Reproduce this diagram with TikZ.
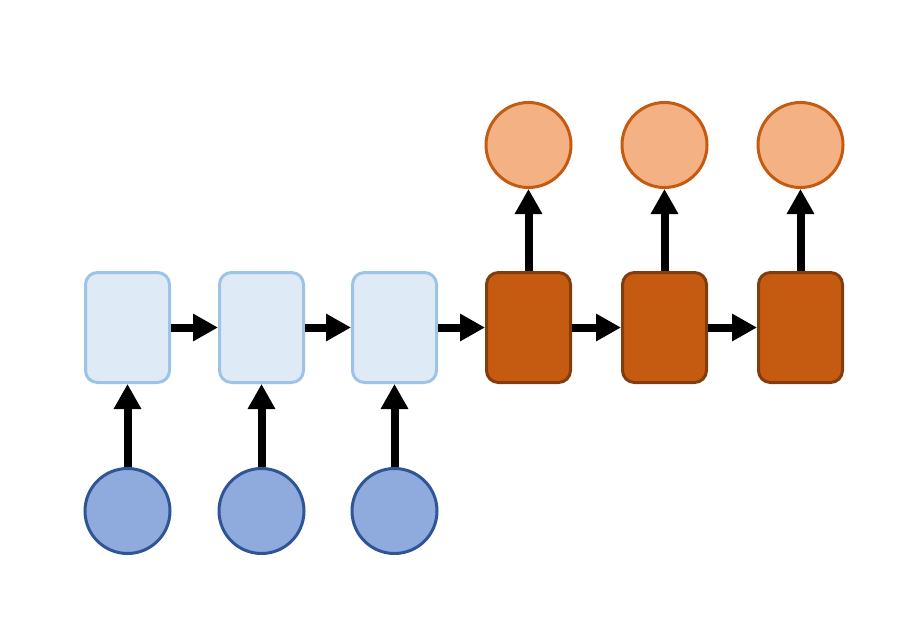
\documentclass[tikz,border=0pt]{standalone}
\usetikzlibrary{arrows.meta}
\definecolor{lbfill}{HTML}{DEEBF7}
\definecolor{lbdraw}{HTML}{9DC3E6}
\definecolor{cbfill}{HTML}{8FAADC}
\definecolor{cbdraw}{HTML}{2F5597}
\definecolor{obfill}{HTML}{C55A11}
\definecolor{obdraw}{HTML}{843C0C}
\definecolor{ocfill}{HTML}{F4B183}
\definecolor{ocdraw}{HTML}{C55A11}
\tikzset{
  cell/.style={rectangle, rounded corners=12pt, minimum width=84pt, minimum height=110pt, line width=3pt, inner sep=0pt},
  inbox/.style={cell, fill=lbfill, draw=lbdraw},
  outbox/.style={cell, fill=obfill, draw=obdraw},
  ball/.style={circle, minimum size=85pt, line width=3pt, inner sep=0pt},
  inball/.style={ball, fill=cbfill, draw=cbdraw},
  outball/.style={ball, fill=ocfill, draw=ocdraw},
  flow/.style={line width=8pt, -{Triangle[length=25pt,width=26pt]}}
}
\begin{document}
\begin{tikzpicture}[x=1pt,y=-1pt]
\useasboundingbox (0,0) rectangle (917,639);
\node[inbox] (h1) at (127.5,327.5) {};
\node[inbox] (h2) at (261.5,327.5) {};
\node[inbox] (h3) at (394.5,327.5) {};
\node[outbox] (h4) at (528.5,327.5) {};
\node[outbox] (h5) at (664.5,327.5) {};
\node[outbox] (h6) at (800.5,327.5) {};
\node[inball] (x1) at (127.5,511) {};
\node[inball] (x2) at (261.5,511) {};
\node[inball] (x3) at (394.5,511) {};
\node[outball] (y1) at (528.5,145) {};
\node[outball] (y2) at (664.5,145) {};
\node[outball] (y3) at (800.5,145) {};
\draw[flow] (h1.east) -- (h2.west);
\draw[flow] (h2.east) -- (h3.west);
\draw[flow] (h3.east) -- (h4.west);
\draw[flow] (h4.east) -- (h5.west);
\draw[flow] (h5.east) -- (h6.west);
\draw[flow] (x1.north) -- (h1.south);
\draw[flow] (x2.north) -- (h2.south);
\draw[flow] (x3.north) -- (h3.south);
\draw[flow] (h4.north) -- (y1.south);
\draw[flow] (h5.north) -- (y2.south);
\draw[flow] (h6.north) -- (y3.south);
\end{tikzpicture}
\end{document}
